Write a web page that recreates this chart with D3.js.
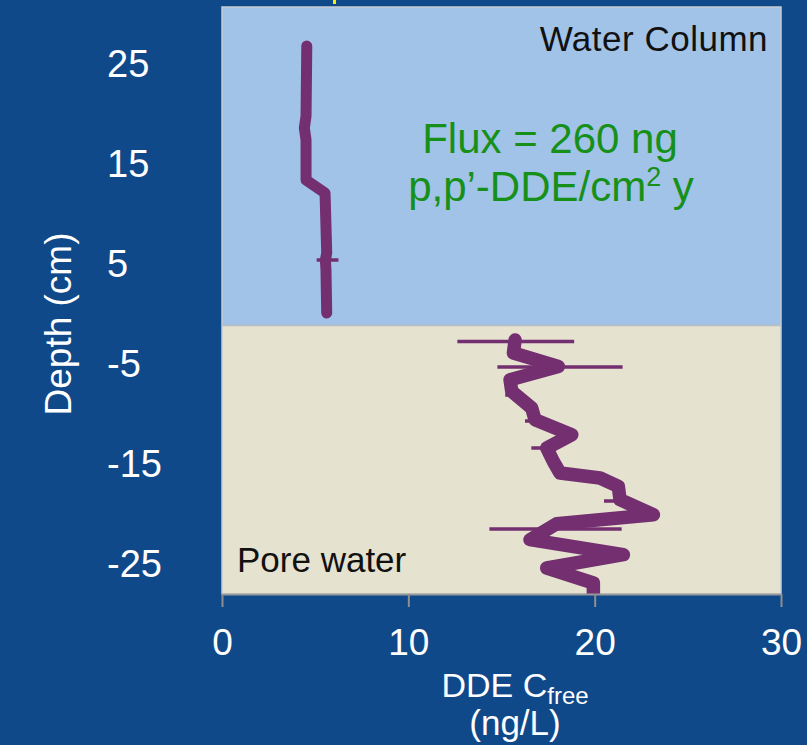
<html>
<head>
    <meta charset="utf-8">
    <title>DDE profile</title>
    <script src="https://cdn.jsdelivr.net/npm/d3@7"></script>
    <style>
        body { margin: 0; background: #10498a; }
        text { font-family: "Liberation Sans", Arial, sans-serif; }
    </style>
</head>
<body>
    <svg id="chart"></svg>
    <script>
        // water column profile (depth in cm, Cfree in ng/L)
        const waterDepth = [26.7, 19.7, 18.5, 17.3, 13.3, 12.0, 6.0, 5.3, 4.3, 0.0];
        const waterConc  = [4.55, 4.51, 4.42, 4.51, 4.51, 5.53, 5.62, 5.55, 5.58, 5.62];

        // pore water profile
        const poreDepth = [-2.7, -4.0, -5.34, -6.67, -7.84, -9.5, -10.67, -12.17, -13.5, -14.84,
                           -16.0, -16.5, -17.34, -18.67, -20.17, -21.07, -22.67, -24.17, -25.5, -27.0, -28.5];
        const poreConc  = [15.73, 15.64, 18.05, 15.46, 15.55, 16.62, 16.8, 18.77, 17.43, 17.78,
                           18.14, 20.29, 21.27, 21.36, 23.15, 17.96, 16.53, 21.54, 17.43, 19.93, 19.93];

        // error bars (horizontal)
        const errDepth = [5.3, -2.85, -5.4, -8.2, -10.8, -13.5, -16.3, -18.8, -21.6];
        const errLow   = [5.08, 12.63, 14.78, 15.2, 16.26, 16.6, 19.6, 20.5, 14.35];
        const errHigh  = [6.25, 18.9, 21.5, 15.8, 17.07, 17.6, 20.4, 21.9, 21.45];

        const xTicks = [0, 10, 20, 30];
        const yTicks = [25, 15, 5, -5, -15, -25];
        const interfaceDepth = -1.25;

        const W = 807, H = 745;
        const pLeft = 222, pRight = 781, pTop = 7, pBottom = 594;
        const purple = '#732f6f';

        const svg = d3.select('#chart')
            .attr('width', W)
            .attr('height', H);

        svg.append('rect')
            .attr('width', W).attr('height', H)
            .attr('fill', '#10498a');

        const x = d3.scaleLinear().domain([0, 30]).range([pLeft, pRight]);
        const y = d3.scaleLinear().domain([-28.1, 30.6]).range([pBottom, pTop]);

        // background zones
        svg.append('rect')
            .attr('x', pLeft).attr('y', pTop)
            .attr('width', pRight - pLeft).attr('height', y(interfaceDepth) - pTop)
            .attr('fill', '#a1c3e8');
        svg.append('rect')
            .attr('x', pLeft).attr('y', y(interfaceDepth))
            .attr('width', pRight - pLeft).attr('height', pBottom - y(interfaceDepth))
            .attr('fill', '#e5e2d0');
        svg.append('line')
            .attr('x1', pLeft).attr('x2', pRight)
            .attr('y1', y(interfaceDepth)).attr('y2', y(interfaceDepth))
            .attr('stroke', '#b9bcc0').attr('stroke-width', 1.5);
        svg.append('rect')
            .attr('x', pLeft).attr('y', pTop)
            .attr('width', pRight - pLeft).attr('height', pBottom - pTop)
            .attr('fill', 'none')
            .attr('stroke', '#c3cbd4').attr('stroke-width', 1.5);

        // little yellow leftover at the top edge
        svg.append('rect')
            .attr('x', 333).attr('y', 0).attr('width', 3).attr('height', 4)
            .attr('fill', '#f2f200');

        svg.append('clipPath').attr('id', 'plotClip')
            .append('rect')
            .attr('x', pLeft).attr('y', pTop)
            .attr('width', pRight - pLeft).attr('height', pBottom - pTop);

        const plot = svg.append('g').attr('clip-path', 'url(#plotClip)');

        const line = d3.line()
            .x(d => x(d[1]))
            .y(d => y(d[0]));

        // error bars
        plot.selectAll('.err')
            .data(errDepth)
            .join('line')
            .attr('class', 'err')
            .attr('x1', (d, i) => x(errLow[i]))
            .attr('x2', (d, i) => x(errHigh[i]))
            .attr('y1', d => y(d))
            .attr('y2', d => y(d))
            .attr('stroke', purple)
            .attr('stroke-width', 3.5);

        plot.append('path')
            .attr('d', line(d3.zip(waterDepth, waterConc)))
            .attr('fill', 'none')
            .attr('stroke', purple)
            .attr('stroke-width', 11)
            .attr('stroke-linecap', 'round')
            .attr('stroke-linejoin', 'round');

        plot.append('path')
            .attr('d', line(d3.zip(poreDepth, poreConc)))
            .attr('fill', 'none')
            .attr('stroke', purple)
            .attr('stroke-width', 13.5)
            .attr('stroke-linecap', 'round')
            .attr('stroke-linejoin', 'round');

        // x axis
        const xAxis = svg.append('g')
            .attr('transform', `translate(0,${pBottom})`)
            .call(d3.axisBottom(x).tickValues(xTicks).tickSize(13).tickSizeOuter(0).tickPadding(22));
        xAxis.select('.domain').attr('stroke', '#9a9a9a').attr('stroke-width', 2);
        xAxis.selectAll('.tick line').attr('stroke', '#8f8f8f').attr('stroke-width', 2);
        xAxis.selectAll('.tick text')
            .attr('fill', 'white')
            .attr('font-size', 37)
            .attr('font-family', '"Liberation Sans", Arial, sans-serif');

        // y axis: labels only, left aligned, plain hyphen for negatives
        const yAxis = svg.append('g')
            .attr('transform', `translate(${pLeft},0)`)
            .call(d3.axisLeft(y).tickValues(yTicks).tickSize(0).tickFormat(d => String(d)));
        yAxis.select('.domain').remove();
        yAxis.selectAll('.tick text')
            .attr('fill', 'white')
            .attr('font-size', 38)
            .attr('font-family', '"Liberation Sans", Arial, sans-serif')
            .attr('text-anchor', 'start')
            .attr('x', 107 - pLeft)
            .attr('dy', '0.36em');

        // axis titles
        const xt = svg.append('text')
            .attr('x', 515).attr('y', 697)
            .attr('text-anchor', 'middle')
            .attr('fill', 'white')
            .attr('font-size', 34);
        xt.append('tspan').text('DDE C');
        xt.append('tspan').attr('font-size', 24).attr('dy', 7).text('free');

        svg.append('text')
            .attr('x', 515).attr('y', 735)
            .attr('text-anchor', 'middle')
            .attr('fill', 'white')
            .attr('font-size', 35)
            .text('(ng/L)');

        svg.append('text')
            .attr('transform', 'translate(71,324) rotate(-90)')
            .attr('text-anchor', 'middle')
            .attr('fill', 'white')
            .attr('font-size', 37)
            .text('Depth (cm)');

        // annotations
        svg.append('text')
            .attr('x', 768).attr('y', 51)
            .attr('text-anchor', 'end')
            .attr('fill', '#111')
            .attr('font-size', 35)
            .attr('letter-spacing', 0.5)
            .text('Water Column');

        svg.append('text')
            .attr('x', 237).attr('y', 572)
            .attr('fill', '#111')
            .attr('font-size', 35)
            .text('Pore water');

        svg.append('text')
            .attr('x', 550).attr('y', 153)
            .attr('text-anchor', 'middle')
            .attr('fill', '#17901a')
            .attr('font-size', 42)
            .text('Flux = 260 ng');

        const f2 = svg.append('text')
            .attr('x', 551).attr('y', 201)
            .attr('text-anchor', 'middle')
            .attr('fill', '#17901a')
            .attr('font-size', 42);
        f2.append('tspan').text('p,p\u2019-DDE/cm');
        f2.append('tspan').attr('font-size', 27).attr('dy', -15).text('2');
        f2.append('tspan').attr('dy', 15).text(' y');
    </script>
</body>
</html>
